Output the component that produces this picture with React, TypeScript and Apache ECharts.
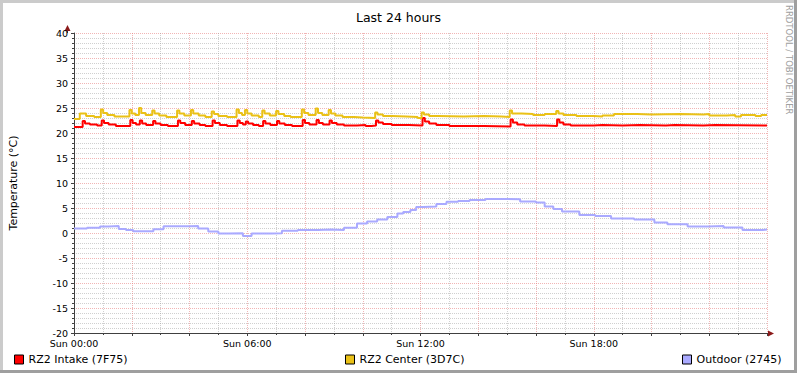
import React, { useEffect, useRef } from "react";
import * as echarts from "echarts";

const TITLE = "Last 24 hours";
const Y_NAME = "Temperature (°C)";
const WATERMARK = "RRDTOOL / TOBI OETIKER";
const SERIES_NAMES = ["RZ2 Intake (7F75)", "RZ2 Center (3D7C)", "Outdoor (2745)"];
const SERIES_COLORS = ["#FF0000", "#EAC117", "#AAAAFF"];
const X_LABEL_HOURS = [0, 6, 12, 18];
const X_LABEL_TEXTS = ["Sun 00:00", "Sun 06:00", "Sun 12:00", "Sun 18:00"];
const X_MIN = 0;
const X_MAX = 24;
const Y_MIN = -20;
const Y_MAX = 40;
const Y_STEP = 5;

// [hour, °C]
const intake: [number, number][] = [
  [0, 21.2],
  [0.3, 22.4], [0.38, 21.9], [0.55, 21.7], [0.8, 21.5],
  [0.96, 22.5], [1.04, 22.0], [1.2, 21.7], [1.45, 21.4],
  [1.95, 22.6], [2.03, 22.0], [2.15, 21.7],
  [2.28, 22.5], [2.36, 21.9], [2.5, 21.6],
  [2.74, 22.4], [2.82, 21.9], [3.0, 21.6], [3.25, 21.4],
  [3.6, 22.5], [3.68, 22.0], [3.85, 21.6],
  [4.08, 22.4], [4.16, 21.9], [4.35, 21.6], [4.55, 21.4],
  [4.8, 22.5], [4.88, 22.0], [5.05, 21.6], [5.3, 21.4],
  [5.66, 22.5], [5.74, 22.0], [5.85, 21.7],
  [5.95, 22.3], [6.03, 21.9], [6.2, 21.6], [6.4, 21.4],
  [6.55, 22.4], [6.63, 21.9], [6.8, 21.6],
  [7.03, 22.4], [7.11, 21.9], [7.3, 21.6], [7.55, 21.4],
  [7.92, 22.6], [8.0, 22.0], [8.15, 21.7],
  [8.4, 22.6], [8.48, 22.0], [8.62, 21.7],
  [8.85, 22.5], [8.93, 22.0], [9.1, 21.7], [9.35, 21.5],
  [9.8, 21.6], [10.1, 21.4], [10.3, 21.5],
  [10.46, 22.5], [10.54, 22.1], [10.7, 21.8], [11.0, 21.6], [11.6, 21.5],
  [12.07, 23.0], [12.15, 22.3], [12.3, 21.9], [12.55, 21.6], [13.0, 21.4], [14.2, 21.3],
  [15.12, 22.7], [15.2, 22.1], [15.35, 21.7], [15.6, 21.5], [16.3, 21.4],
  [16.73, 22.7], [16.81, 22.1], [16.95, 21.7], [17.2, 21.5],
  [18.0, 21.6], [18.3, 21.5], [19.0, 21.6], [19.6, 21.5], [20.5, 21.6], [20.8, 21.5],
  [21.8, 21.6], [22.2, 21.5], [24, 21.5],
];

const center: [number, number][] = [
  [0, 22.8],
  [0.2, 23.9], [0.42, 23.4], [0.7, 23.2],
  [0.93, 24.7], [1.01, 24.0], [1.15, 23.6], [1.4, 23.3],
  [1.92, 24.6], [2.0, 23.9], [2.12, 23.6],
  [2.25, 25.0], [2.33, 24.0], [2.48, 23.6],
  [2.71, 24.5], [2.79, 23.9], [2.95, 23.5], [3.2, 23.2],
  [3.57, 24.5], [3.65, 23.9], [3.82, 23.5],
  [4.05, 24.6], [4.13, 23.9], [4.32, 23.5], [4.55, 23.2],
  [4.77, 24.3], [4.85, 23.8], [5.0, 23.4], [5.3, 23.2],
  [5.63, 24.7], [5.71, 24.0], [5.82, 23.6],
  [5.92, 24.6], [6.0, 23.9], [6.15, 23.5], [6.4, 23.2],
  [6.52, 24.5], [6.6, 23.9], [6.78, 23.5],
  [7.0, 24.4], [7.08, 23.8], [7.28, 23.4], [7.5, 23.2],
  [7.89, 24.7], [7.97, 24.0], [8.12, 23.6],
  [8.37, 24.9], [8.45, 24.0], [8.6, 23.6],
  [8.82, 24.6], [8.9, 23.9], [9.05, 23.5], [9.3, 23.2],
  [9.7, 23.1], [10.0, 23.0],
  [10.43, 24.1], [10.51, 23.7], [10.7, 23.4], [11.0, 23.3], [11.5, 23.2], [11.9, 23.0],
  [12.04, 24.1], [12.12, 23.7], [12.3, 23.4], [12.6, 23.3], [13.5, 23.4], [14.2, 23.3], [14.8, 23.2],
  [15.09, 24.5], [15.17, 23.9], [15.5, 23.8], [15.9, 23.6], [16.3, 23.8],
  [16.7, 24.4], [16.78, 23.9], [16.95, 23.6], [17.4, 23.4], [18.0, 23.3], [18.3, 23.5],
  [18.7, 23.8], [19.5, 23.7], [20.0, 23.8], [21.0, 23.7], [21.8, 23.8], [22.0, 23.5],
  [22.6, 23.6], [22.9, 23.3], [23.1, 23.6], [23.6, 23.4], [23.8, 23.6], [24, 23.6],
];

const outdoor: [number, number][] = [
  [0, 0.9], [0.45, 1.05], [0.9, 1.3], [1.2, 1.4], [1.55, 0.8], [1.8, 0.6], [2.05, 0.35],
  [2.4, 0.35], [2.75, 0.75], [3.1, 1.35], [3.55, 1.35], [4.0, 1.4], [4.3, 0.9], [4.65, 0.3],
  [5.0, -0.1], [5.35, -0.05], [5.85, -0.6], [6.15, -0.1], [6.85, -0.05], [7.2, 0.45],
  [7.75, 0.6], [8.45, 0.7], [8.9, 0.6], [9.35, 1.05], [9.8, 1.9], [10.15, 2.3], [10.5, 2.7],
  [10.85, 3.2], [11.2, 3.9], [11.4, 4.2], [11.65, 4.6], [11.85, 5.2], [12.1, 5.3],
  [12.55, 5.8], [12.9, 6.25], [13.3, 6.4], [13.7, 6.6], [14.25, 6.8], [14.85, 6.75],
  [15.45, 6.3], [16.0, 6.1], [16.3, 5.3], [16.6, 4.8], [16.9, 4.3], [17.5, 3.6],
  [18.05, 3.4], [18.6, 2.9], [19.4, 2.7], [20.1, 2.1], [20.55, 1.75], [21.25, 1.3],
  [21.95, 1.4], [22.5, 1.1], [23.15, 0.6], [23.85, 0.7], [24, 0.7],
];

const SERIES_DATA = [intake, center, outdoor];

const FONT = "DejaVu Sans";

export default function App() {
  const ref = useRef<HTMLDivElement>(null);

  useEffect(() => {
    document.body.style.margin = "0";
    if (!ref.current) return;
    const chart = echarts.init(ref.current, undefined, { renderer: "svg" });

    const legendLefts = [14, 345, 682];

    const option: any = {
      animation: false,
      backgroundColor: "#ffffff",
      title: {
        text: TITLE,
        left: "center",
        top: 6,
        textStyle: { fontFamily: FONT, fontSize: 12.5, fontWeight: "normal", color: "#000" },
      },
      grid: { left: 67, top: 33, width: 700, height: 300 },
      legend: SERIES_NAMES.map((n, i) => ({
        data: [n],
        left: legendLefts[i],
        top: 353,
        padding: 0,
        icon: "rect",
        itemWidth: 9,
        itemHeight: 9,
        itemStyle: { borderColor: "#000", borderWidth: 1 },
        textStyle: { fontFamily: FONT, fontSize: 11, color: "#000", lineHeight: 13 },
        selectedMode: false,
      })),
      xAxis: {
        type: "value",
        min: X_MIN,
        max: X_MAX,
        interval: 2,
        axisLine: { show: true, onZero: false, lineStyle: { color: "#404040", width: 1 } },
        axisTick: { show: true, length: 3, lineStyle: { color: "#404040" } },
        minorTick: { show: true, splitNumber: 2, length: 2, lineStyle: { color: "#404040" } },
        axisLabel: {
          fontFamily: FONT,
          fontSize: 9.5,
          color: "#000",
          margin: 5,
          showMaxLabel: false,
          formatter: (v: number) => {
            const i = X_LABEL_HOURS.indexOf(v);
            return i >= 0 ? X_LABEL_TEXTS[i] : "";
          },
        },
        splitLine: { show: true, lineStyle: { color: "rgba(230,120,120,0.55)", type: [1, 1], width: 1 } },
        minorSplitLine: { show: true, lineStyle: { color: "rgba(150,150,150,0.45)", type: [1, 1], width: 1 } },
      },
      yAxis: {
        type: "value",
        min: Y_MIN,
        max: Y_MAX,
        interval: Y_STEP,
        name: Y_NAME,
        nameLocation: "middle",
        nameGap: 55,
        nameTextStyle: { fontFamily: FONT, fontSize: 11, color: "#000" },
        axisLine: { show: true, onZero: false, lineStyle: { color: "#404040", width: 1 } },
        axisTick: { show: true, length: 3, lineStyle: { color: "#404040" } },
        minorTick: { show: true, splitNumber: 5, length: 2, lineStyle: { color: "#404040" } },
        axisLabel: { fontFamily: FONT, fontSize: 9.5, color: "#000", margin: 6 },
        splitLine: { show: true, lineStyle: { color: "rgba(230,120,120,0.55)", type: [1, 1], width: 1 } },
        minorSplitLine: { show: true, lineStyle: { color: "rgba(150,150,150,0.45)", type: [1, 1], width: 1 } },
      },
      series: SERIES_NAMES.map((n, i) => ({
        name: n,
        type: "line",
        step: "end",
        data: SERIES_DATA[i],
        showSymbol: false,
        symbol: "none",
        color: SERIES_COLORS[i],
        lineStyle: { color: SERIES_COLORS[i], width: 2 },
        z: 3,
      })),
      graphic: [
        { type: "rect", shape: { x: 0, y: 0, width: 797, height: 3 }, style: { fill: "#CBCBCB" }, silent: true },
        { type: "rect", shape: { x: 0, y: 0, width: 3, height: 373 }, style: { fill: "#CBCBCB" }, silent: true },
        { type: "rect", shape: { x: 0, y: 370, width: 797, height: 3 }, style: { fill: "#9f9f9f" }, silent: true },
        { type: "rect", shape: { x: 794, y: 0, width: 3, height: 373 }, style: { fill: "#9f9f9f" }, silent: true },
        { type: "line", shape: { x1: 67.5, y1: 33, x2: 67.5, y2: 29 }, style: { stroke: "#404040", lineWidth: 1 }, silent: true },
        { type: "line", shape: { x1: 767, y1: 333.5, x2: 770, y2: 333.5 }, style: { stroke: "#404040", lineWidth: 1 }, silent: true },
        { type: "polygon", shape: { points: [[64.5, 31], [70.5, 31], [67.5, 25]] }, style: { fill: "#8b1a1a" }, silent: true },
        { type: "polygon", shape: { points: [[768, 330.5], [768, 336.5], [774, 333.5]] }, style: { fill: "#8b1a1a" }, silent: true },
        {
          type: "text",
          x: 789,
          y: 5,
          rotation: -Math.PI / 2,
          style: {
            text: WATERMARK,
            fontFamily: FONT,
            fontSize: 8.5,
            fill: "#a0a0a0",
            textAlign: "left",
            textVerticalAlign: "middle",
          },
          silent: true,
        },
      ],
    };

    chart.setOption(option);
    return () => chart.dispose();
  }, []);

  return <div ref={ref} style={{ width: 797, height: 373 }} />;
}
